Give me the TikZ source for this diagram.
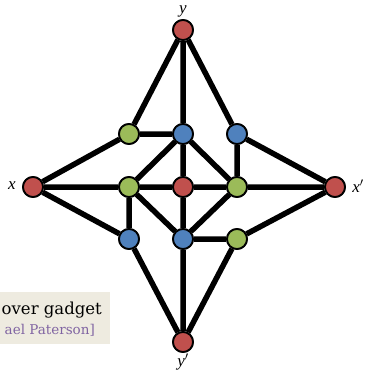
\documentclass[tikz,border=0pt]{standalone}
\usepackage{fontspec}
\setmainfont{Liberation Serif}
\newfontfamily\capfont{DejaVu Serif}
\begin{document}
\begin{tikzpicture}[x=1pt,y=-1pt,
  vtx/.style={circle,draw=black,line width=1.8pt,minimum size=20pt,inner sep=0pt},
  rv/.style={vtx,fill=vred},
  gv/.style={vtx,fill=vgreen},
  bv/.style={vtx,fill=vblue},
  edge/.style={line width=5.5pt},
  lbl/.style={font=\itshape\fontsize{17}{17}\selectfont,inner sep=0pt}]
\definecolor{vred}{HTML}{C0504D}
\definecolor{vgreen}{HTML}{9BBB59}
\definecolor{vblue}{HTML}{4F81BD}
\definecolor{capbg}{HTML}{EEEBE0}
\definecolor{cappurple}{HTML}{8064A2}
\useasboundingbox (0,0) rectangle (365,373);
% caption box
\fill[capbg] (0,292) rectangle (110,344);
\node[anchor=base east,inner sep=0pt,font=\capfont\fontsize{16.5}{16.5}\selectfont] (cap1) at (102,314) {over gadget};
\node[anchor=base east,inner sep=0pt,text=cappurple,font=\capfont\fontsize{13.5}{13.5}\selectfont] (cap2) at (95,334) {ael Paterson]};
% vertices
\node[rv] (y) at (183,30) {};
\node[rv] (yp) at (183,342) {};
\node[rv] (x) at (33,187) {};
\node[rv] (xp) at (335,187) {};
\node[rv] (c) at (183,187) {};
\node[gv] (gtl) at (129,134) {};
\node[bv] (bt) at (183,134) {};
\node[bv] (btr) at (237,134) {};
\node[gv] (gml) at (129,187) {};
\node[gv] (gmr) at (237,187) {};
\node[bv] (bbl) at (129,239) {};
\node[bv] (bbm) at (183,239) {};
\node[gv] (gbr) at (237,239) {};
% edges
\draw[edge] (y) -- (gtl) (y) -- (bt) (y) -- (btr)
  (x) -- (gtl) (x) -- (gml) (x) -- (bbl)
  (xp) -- (btr) (xp) -- (gmr) (xp) -- (gbr)
  (yp) -- (bbl) (yp) -- (bbm) (yp) -- (gbr)
  (gtl) -- (bt) (bt) -- (gml) (bt) -- (c) (bt) -- (gmr)
  (btr) -- (gmr) (gml) -- (c) (c) -- (gmr)
  (gml) -- (bbl) (gml) -- (bbm) (c) -- (bbm) (gmr) -- (bbm)
  (bbm) -- (gbr);
% redraw vertices on top
\foreach \n/\s in {y/rv,yp/rv,x/rv,xp/rv,c/rv,gtl/gv,bt/bv,btr/bv,gml/gv,gmr/gv,bbl/bv,bbm/bv,gbr/gv}
  \node[\s] at (\n) {};
% labels
\node[lbl] (ly) at (183,11) {y};
\node[lbl] (lyp) at (183,362) {y$'$};
\node[lbl] (lx) at (12,186) {x};
\node[lbl] (lxp) at (358,186) {x$'$};
\end{tikzpicture}
\end{document}
